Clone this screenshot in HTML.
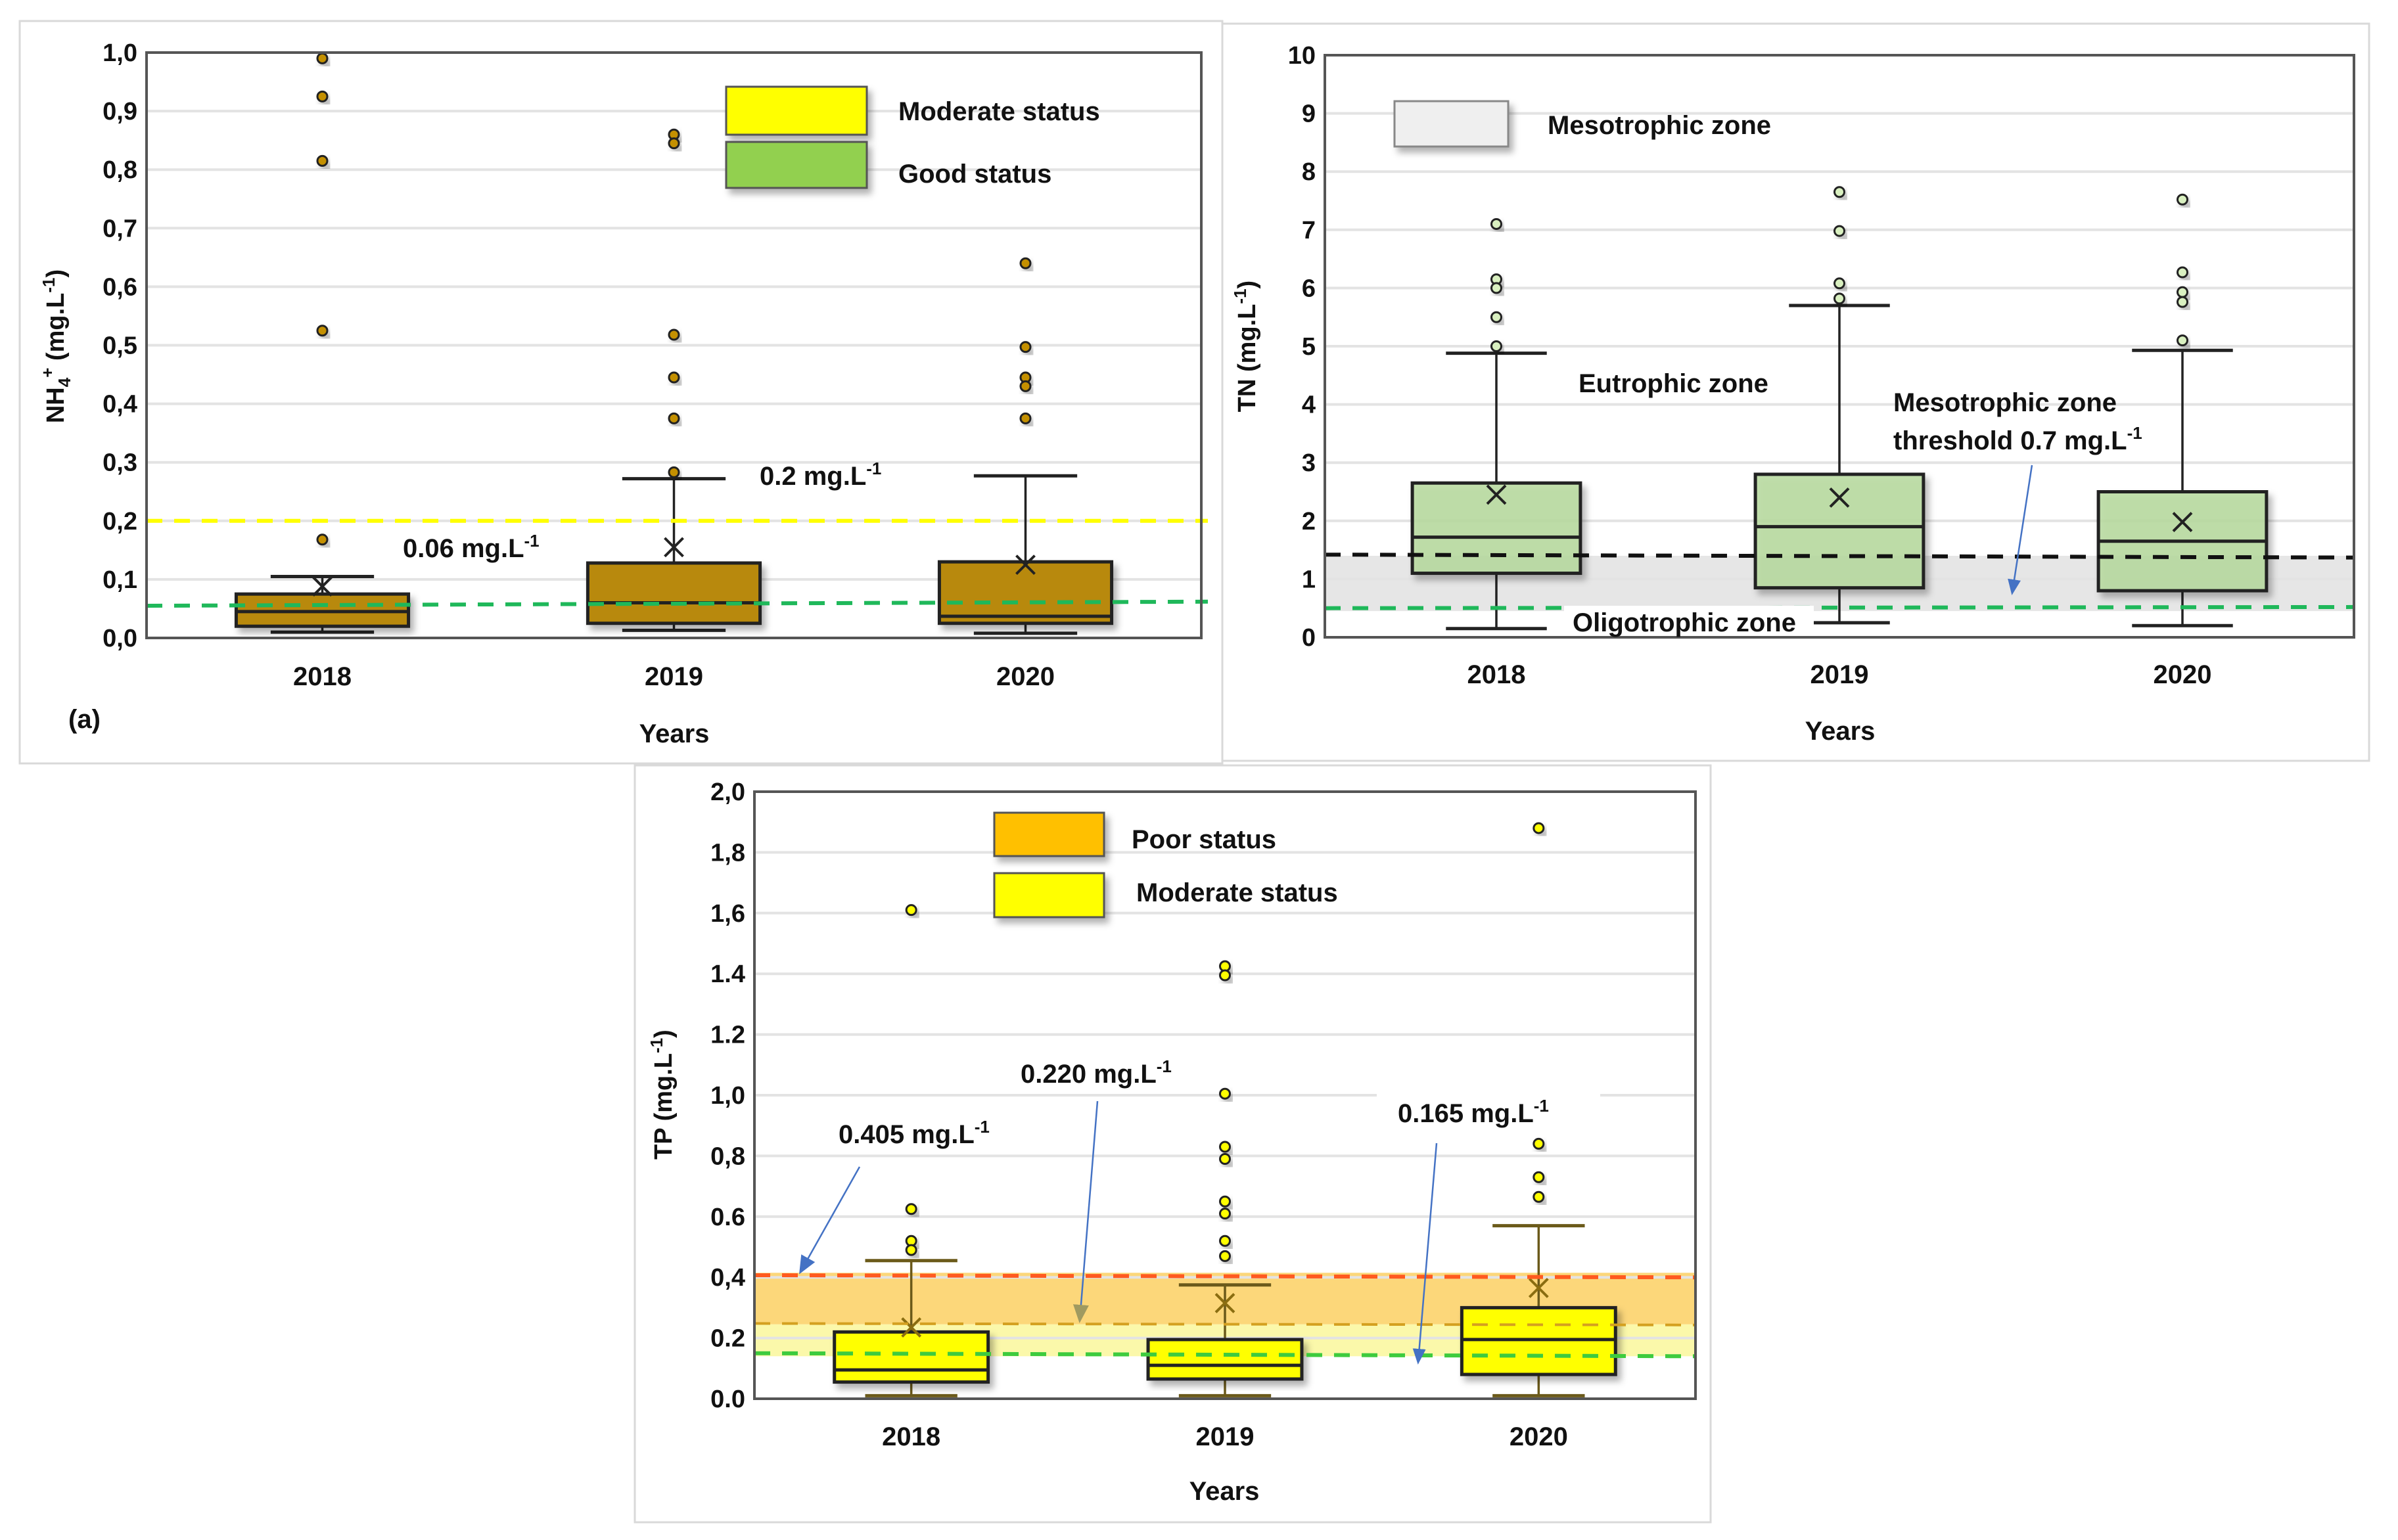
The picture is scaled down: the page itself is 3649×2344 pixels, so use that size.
<!DOCTYPE html>
<html><head><meta charset="utf-8">
<style>
html,body{margin:0;padding:0;background:#fff;}
svg{display:block;font-family:"Liberation Sans",sans-serif;}
</style></head>
<body>
<svg id="fig" width="3649" height="2344" viewBox="0 0 3649 2344" xmlns="http://www.w3.org/2000/svg">
<defs>
<filter id="sh" x="-20%" y="-20%" width="150%" height="150%"><feDropShadow dx="6" dy="8" stdDeviation="5" flood-color="#000" flood-opacity="0.3"/></filter>
<marker id="arBig" markerWidth="28" markerHeight="28" refX="24" refY="14" orient="auto" markerUnits="userSpaceOnUse" viewBox="0 0 28 28"><path d="M0,2 L28,14 L0,26 z" fill="#4472c4"/></marker>
<marker id="arG" markerWidth="28" markerHeight="28" refX="24" refY="14" orient="auto" markerUnits="userSpaceOnUse" viewBox="0 0 28 28"><path d="M0,2 L28,14 L0,26 z" fill="#a09a60"/></marker>
<marker id="arS" markerWidth="24" markerHeight="24" refX="20" refY="12" orient="auto" markerUnits="userSpaceOnUse" viewBox="0 0 24 24"><path d="M0,2 L24,12 L0,22 z" fill="#4472c4"/></marker>
</defs>
<g id="root"></g>
</svg>
<script>
// ---- Chart A: NH4+ ----
const catsA = ["2018","2019","2020"];
const lowA = [0.01, 0.013, 0.008];
const q1A = [0.02, 0.025, 0.025];
const medA = [0.045, 0.06, 0.037];
const q3A = [0.075, 0.128, 0.13];
const highA = [0.105, 0.272, 0.277];
const meanA = [0.088, 0.155, 0.125];
const outA = [[0.99,0.925,0.815,0.525,0.168],[0.86,0.845,0.518,0.445,0.375,0.283],[0.64,0.497,0.445,0.43,0.375]];
const ticksA = ["0,0","0,1","0,2","0,3","0,4","0,5","0,6","0,7","0,8","0,9","1,0"];
// ---- Chart B: TN ----
const catsB = ["2018","2019","2020"];
const lowB = [0.15, 0.25, 0.2];
const q1B = [1.1, 0.85, 0.8];
const medB = [1.72, 1.9, 1.65];
const q3B = [2.65, 2.8, 2.5];
const highB = [4.88, 5.7, 4.93];
const meanB = [2.45, 2.4, 1.98];
const outB = [[7.1,6.15,6.0,5.5,5.0],[7.65,6.98,6.08,5.82],[7.52,6.27,5.93,5.76,5.1]];
const ticksB = ["0","1","2","3","4","5","6","7","8","9","10"];
// ---- Chart C: TP ----
const catsC = ["2018","2019","2020"];
const lowC = [0.01, 0.01, 0.01];
const q1C = [0.055, 0.065, 0.08];
const medC = [0.095, 0.11, 0.195];
const q3C = [0.22, 0.195, 0.3];
const highC = [0.455, 0.375, 0.57];
const meanC = [0.235, 0.315, 0.365];
const outC = [[1.61,0.625,0.52,0.49],[1.425,1.395,1.005,0.83,0.79,0.65,0.61,0.52,0.47],[1.88,0.84,0.73,0.665]];
const ticksC = ["0.0","0.2","0,4","0.6","0,8","1,0","1.2","1.4","1,6","1,8","2,0"];

const NS = "http://www.w3.org/2000/svg";
const root = document.getElementById('root');
function mk(tag, attrs, parent, text){
  const e = document.createElementNS(NS, tag);
  for (const k in attrs) e.setAttribute(k, attrs[k]);
  if (text !== undefined) e.textContent = text;
  (parent||root).appendChild(e);
  return e;
}

function chart(o){
  const g = mk('g', {});
  
  
  const panel = mk('rect', {x:o.px,y:o.py,width:o.pw,height:o.ph,fill:'#fff',stroke:'#d9d9d9','stroke-width':3}, g);
  
  
  const L=o.L,R=o.R,T=o.T,B=o.B;
  const y = v => B - (v - o.ymin)/(o.ymax - o.ymin)*(B-T);
  const band = (R-L)/o.cats.length;
  const x = i => L + band*(i+0.5);
  (o.bands||[]).forEach(b=>{
    const r = mk('rect',{x:L,y:y(b.hi),width:R-L,height:y(b.lo)-y(b.hi),fill:b.fill},g);
    
    
  });
  o.ticks.forEach((t,i)=>{
    const v = o.ymin + i*(o.ymax-o.ymin)/(o.ticks.length-1);
    if (i>0 && i<o.ticks.length-1){
      const gl = mk('line',{x1:L,x2:R,y1:y(v),y2:y(v),stroke:'#e3e3e3','stroke-width':4},g);
      
      
    }
    const tl = mk('text',{x:L-14,y:y(v)+13,'text-anchor':'end','font-size':38,'font-weight':'bold',fill:'#111'},g,t);
    
    
  });
  const bw = band*0.49;
  o.cats.forEach((c,i)=>{
    const bg = mk('g',{},g);
    
    
    const cx = x(i);
    const cap = bw*0.3;
    mk('line',{x1:cx,x2:cx,y1:y(o.high[i]),y2:y(o.q3[i]),stroke:o.wc,'stroke-width':3.5},bg);
    mk('line',{x1:cx,x2:cx,y1:y(o.q1[i]),y2:y(o.low[i]),stroke:o.wc,'stroke-width':3.5},bg);
    mk('line',{x1:cx-cap,x2:cx+cap,y1:y(o.high[i]),y2:y(o.high[i]),stroke:o.wc,'stroke-width':5},bg);
    mk('line',{x1:cx-cap,x2:cx+cap,y1:y(o.low[i]),y2:y(o.low[i]),stroke:o.wc,'stroke-width':5},bg);
    mk('rect',{x:cx-bw/2,y:y(o.q3[i]),width:bw,height:y(o.q1[i])-y(o.q3[i]),fill:o.fill,'fill-opacity':o.fo||1,stroke:'#222','stroke-width':5,filter:'url(#sh)'},bg);
    mk('line',{x1:cx-bw/2,x2:cx+bw/2,y1:y(o.med[i]),y2:y(o.med[i]),stroke:'#222','stroke-width':5},bg);
    const m=y(o.mean[i]), s=14;
    mk('path',{d:`M${cx-s},${m-s}L${cx+s},${m+s}M${cx-s},${m+s}L${cx+s},${m-s}`,stroke:o.mc||'#222','stroke-width':4,fill:'none'},bg);
    o.out[i].forEach(v=>{
      const d = mk('circle',{cx:cx,cy:y(v),r:7.5,fill:o.dot,stroke:'#222','stroke-width':3,filter:'url(#sh)'},g);
      
      
    });
    const xl = mk('text',{x:cx,y:o.catY,'text-anchor':'middle','font-size':40,'font-weight':'bold',fill:'#111'},g,c);
    
    
  });
  // threshold lines drawn over boxes
  (o.lines||[]).forEach(l=>{
    const ln = mk('line',{x1:L,x2:R+(l.extR||0),y1:y(l.v1),y2:y(l.v2),stroke:l.c,'stroke-width':l.w||6,'stroke-dasharray':l.dash||'24 18'},g);
    
    
  });
  const fr = mk('path',{d:`M${L},${T}L${R},${T}L${R},${B}L${L},${B}Z`,fill:'none',stroke:'#555','stroke-width':4},g);
  
  
  const xt = mk('text',{x:o.xtX,y:o.xtY,'text-anchor':'middle','font-size':40,'font-weight':'bold',fill:'#111'},g,'Years');
  
  
  return g;
}

const gA = chart({name:'nh4-chart',px:30,py:32,pw:1830,ph:1130,L:223,R:1828,T:80,B:971,ymin:0,ymax:1,
  cats:catsA,low:lowA,q1:q1A,med:medA,q3:q3A,high:highA,mean:meanA,out:outA,ticks:ticksA,
  fill:'#b8890a',dot:'#c49000',wc:'#222',catY:1043,xtX:1026,xtY:1130,
  lines:[{name:'moderate-threshold-line',v1:0.2,v2:0.2,c:'#ffff00',extR:10},{name:'good-threshold-line',v1:0.055,v2:0.062,c:'#1fb85a',extR:10}]});
const gB = chart({name:'tn-chart',px:1860,py:36,pw:1745,ph:1122,L:2016,R:3582,T:84,B:970,ymin:0,ymax:10,
  cats:catsB,low:lowB,q1:q1B,med:medB,q3:q3B,high:highB,mean:meanB,out:outB,ticks:ticksB,
  fill:'#b8dca0',fo:0.85,dot:'#d9f0c0',wc:'#222',catY:1040,xtX:2800,xtY:1126,
  bands:[{name:'mesotrophic-zone-band',lo:0.45,hi:1.4,fill:'#e6e6e6'}],
  lines:[{name:'mesotrophic-upper-line',v1:1.42,v2:1.37,c:'#111'},{name:'oligotrophic-line',v1:0.5,v2:0.52,c:'#1fb85a'}]});
const gC = chart({name:'tp-chart',px:966,py:1165,pw:1637,ph:1152,L:1148,R:2580,T:1205,B:2129,ymin:0,ymax:2,
  cats:catsC,low:lowC,q1:q1C,med:medC,q3:q3C,high:highC,mean:meanC,out:outC,ticks:ticksC,
  fill:'#ffff00',dot:'#ffff00',wc:'#6b5a1a',mc:'#8a6d10',catY:2200,xtX:1863,xtY:2283,
  bands:[{name:'poor-status-band',lo:0.245,hi:0.415,fill:'#fcd77a'},{name:'moderate-status-band',lo:0.14,hi:0.245,fill:'#fbf8aa'}],
  lines:[{name:'poor-threshold-line',v1:0.407,v2:0.4,c:'#ff5a1f'},{name:'moderate-threshold-line',v1:0.248,v2:0.243,c:'#d4a020',w:4},{name:'good-threshold-line',v1:0.15,v2:0.14,c:'#3ecb3e'}]});

function txt(parent, name, x, y, str, size, sup, anchor){
  const t = mk('text',{x:x,y:y,'font-size':size||40,'font-weight':'bold',fill:'#111','text-anchor':anchor||'start'},parent);
  
  
  t.appendChild(document.createTextNode(str));
  if (sup){ mk('tspan',{dy:-16,'font-size':26},t,sup); }
  return t;
}
function legendBox(parent,name,x,y,w,h,fill,stroke){
  const r = mk('rect',{x:x,y:y,width:w,height:h,fill:fill,stroke:stroke||'#555','stroke-width':3,filter:'url(#sh)'},parent);
  
  
}
legendBox(gA,'legend-moderate-swatch',1105,132,214,73,'#ffff00');
legendBox(gA,'legend-good-swatch',1105,216,214,70,'#92d050');
txt(gA,'legend-moderate-label',1367,183,'Moderate status');
txt(gA,'legend-good-label',1367,278,'Good status');
txt(gA,'label-0-2',1156,738,'0.2 mg.L','', '-1');
txt(gA,'label-0-06',613,848,'0.06 mg.L','', '-1');
txt(gA,'panel-label-a',104,1108,'(a)',40);
const ytA = mk('text',{transform:'translate(97,527) rotate(-90)','text-anchor':'middle','font-size':38,'font-weight':'bold',fill:'#111'},gA);


ytA.innerHTML = 'NH<tspan font-size="26" dy="10">4</tspan><tspan font-size="26" dy="-26">+</tspan><tspan dy="16"> (mg.L</tspan><tspan font-size="26" dy="-14">-1</tspan><tspan dy="14">)</tspan>';
legendBox(gB,'legend-mesotrophic-swatch',2122,154,173,69,'#efefef','#888');
txt(gB,'legend-mesotrophic-label',2355,204,'Mesotrophic zone');
txt(gB,'eutrophic-zone-label',2402,597,'Eutrophic zone');
txt(gB,'mesotrophic-threshold-label-1',2881,626,'Mesotrophic zone');
txt(gB,'mesotrophic-threshold-label-2',2881,684,'threshold 0.7 mg.L','', '-1');
const wb = mk('rect',{x:2380,y:922,width:380,height:42,fill:'#fff'},gB);


txt(gB,'oligotrophic-zone-label',2393,961,'Oligotrophic zone');
const arB = mk('line',{x1:3092,y1:708,x2:3062,y2:902,stroke:'#4472c4','stroke-width':2.5,'marker-end':'url(#arS)'},gB);


const ytB = mk('text',{transform:'translate(1910,527) rotate(-90)','text-anchor':'middle','font-size':38,'font-weight':'bold',fill:'#111'},gB);


ytB.innerHTML = 'TN (mg.L<tspan font-size="26" dy="-14">-1</tspan><tspan dy="14">)</tspan>';
legendBox(gC,'legend-poor-swatch',1513,1237,167,66,'#ffc000');
legendBox(gC,'legend-moderate-swatch',1513,1329,167,67,'#ffff00');
txt(gC,'legend-poor-label',1722,1291,'Poor status');
txt(gC,'legend-moderate-label',1729,1372,'Moderate status');
txt(gC,'label-0-405',1276,1740,'0.405 mg.L','', '-1');
txt(gC,'label-0-220',1553,1648,'0.220 mg.L','', '-1');
const wc = mk('rect',{x:2095,y:1665,width:340,height:50,fill:'#fff'},gC);


txt(gC,'label-0-165',2127,1708,'0.165 mg.L','', '-1');
const a1 = mk('line',{x1:1308,y1:1776,x2:1218,y2:1936,stroke:'#4472c4','stroke-width':2.5,'marker-end':'url(#arBig)'},gC);


const a2 = mk('line',{x1:1670,y1:1676,x2:1643,y2:2010,stroke:'#4472c4','stroke-width':2.5,'marker-end':'url(#arG)'},gC);


const a3 = mk('line',{x1:2186,y1:1740,x2:2158,y2:2073,stroke:'#4472c4','stroke-width':2.5,'marker-end':'url(#arS)'},gC);


const ytC = mk('text',{transform:'translate(1022,1666) rotate(-90)','text-anchor':'middle','font-size':38,'font-weight':'bold',fill:'#111'},gC);


ytC.innerHTML = 'TP (mg.L<tspan font-size="26" dy="-14">-1</tspan><tspan dy="14">)</tspan>';
</script>
</body></html>
